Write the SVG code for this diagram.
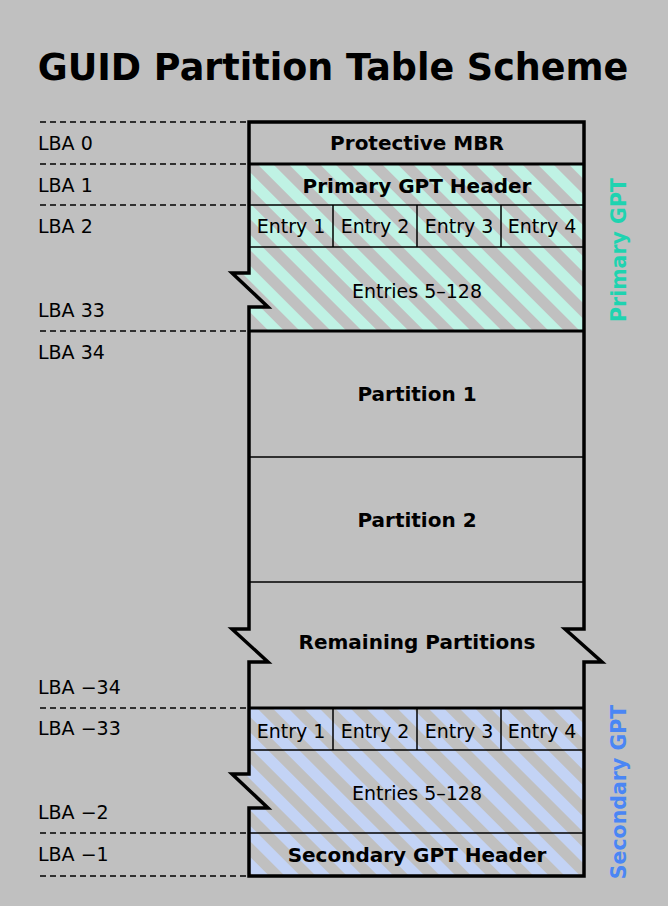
<svg xmlns="http://www.w3.org/2000/svg" width="668" height="906" viewBox="0 0 668 906">
<defs>
<pattern id="pc" width="22" height="22" patternUnits="userSpaceOnUse" patternTransform="rotate(-45)"><rect width="22" height="22" fill="#c0c0c0"/><rect width="11" height="22" fill="#bff2e4"/></pattern>
<pattern id="pb" width="22" height="22" patternUnits="userSpaceOnUse" patternTransform="rotate(-45)"><rect width="22" height="22" fill="#c0c0c0"/><rect width="11" height="22" fill="#c3d3f5"/></pattern>
</defs>
<style>
text{font-family:"DejaVu Sans",sans-serif;font-size:19px;fill:#000}
.b{font-weight:bold;font-size:20px}
.m{text-anchor:middle}
.d{stroke:#000;stroke-width:1.5;stroke-dasharray:6,4}
.o{fill:none;stroke:#000;stroke-width:3.5}
.t{stroke:#000;stroke-width:1.5}
</style>
<rect width="668" height="906" fill="#c0c0c0"/>
<text x="333" y="80" class="b m" style="font-size:36.5px">GUID Partition Table Scheme</text>
<g id="lba">
<g class="d"><line x1="40" y1="122" x2="249" y2="122"/><line x1="40" y1="164" x2="249" y2="164"/><line x1="40" y1="205" x2="249" y2="205"/><line x1="40" y1="331" x2="249" y2="331"/><line x1="40" y1="708" x2="249" y2="708"/><line x1="40" y1="833" x2="249" y2="833"/><line x1="40" y1="876" x2="249" y2="876"/></g>
<text x="38" y="150">LBA 0</text><text x="38" y="192">LBA 1</text><text x="38" y="233">LBA 2</text><text x="38" y="317">LBA 33</text><text x="38" y="359">LBA 34</text><text x="38" y="694">LBA −34</text><text x="38" y="735">LBA −33</text><text x="38" y="819">LBA −2</text><text x="38" y="861">LBA −1</text>
</g>
<g id="primary">
<path d="M249,164H584V331H249V307H268L232,273H249Z" fill="url(#pc)"/>
<line x1="249" y1="205" x2="584" y2="205" class="t"/><line x1="249" y1="247" x2="584" y2="247" class="t"/>
<line x1="333" y1="205" x2="333" y2="247" class="t"/><line x1="417" y1="205" x2="417" y2="247" class="t"/><line x1="501" y1="205" x2="501" y2="247" class="t"/>
<text x="417" y="193" class="b m">Primary GPT Header</text>
<text x="291" y="233" class="m">Entry 1</text><text x="375" y="233" class="m">Entry 2</text><text x="459" y="233" class="m">Entry 3</text><text x="542" y="233" class="m">Entry 4</text>
<text x="417" y="298" class="m">Entries 5–128</text>
</g>
<g id="secondary">
<path d="M249,708H584V876H249V808H268L232,774H249Z" fill="url(#pb)"/>
<line x1="249" y1="750" x2="584" y2="750" class="t"/><line x1="249" y1="833" x2="584" y2="833" class="t"/>
<line x1="333" y1="708" x2="333" y2="750" class="t"/><line x1="417" y1="708" x2="417" y2="750" class="t"/><line x1="501" y1="708" x2="501" y2="750" class="t"/>
<text x="291" y="738" class="m">Entry 1</text><text x="375" y="738" class="m">Entry 2</text><text x="459" y="738" class="m">Entry 3</text><text x="542" y="738" class="m">Entry 4</text>
<text x="417" y="800" class="m">Entries 5–128</text>
<text x="417" y="862" class="b m">Secondary GPT Header</text>
</g>
<g id="partitions">
<line x1="249" y1="457" x2="584" y2="457" class="t"/><line x1="249" y1="582" x2="584" y2="582" class="t"/>
<text x="417" y="150" class="b m">Protective MBR</text>
<text x="417" y="401" class="b m">Partition 1</text>
<text x="417" y="527" class="b m">Partition 2</text>
<text x="417" y="649" class="b m">Remaining Partitions</text>
</g>
<g id="outline">
<line x1="249" y1="164" x2="584" y2="164" class="o" style="stroke-width:3"/>
<line x1="249" y1="331" x2="584" y2="331" class="o" style="stroke-width:3"/>
<line x1="249" y1="708" x2="584" y2="708" class="o" style="stroke-width:3"/>
<path class="o" d="M249,122H584V629H565L602,662H584V876H249V808H268L232,774H249V662H268L232,629H249V307H268L232,273H249Z"/>
</g>
<g id="labels">
<text transform="translate(626,250) rotate(-90)" class="b m" style="fill:#1fd3b0;font-size:20.5px">Primary GPT</text>
<text transform="translate(626,792) rotate(-90)" class="b m" style="fill:#4a86f5;font-size:20.5px">Secondary GPT</text>
</g>
</svg>
